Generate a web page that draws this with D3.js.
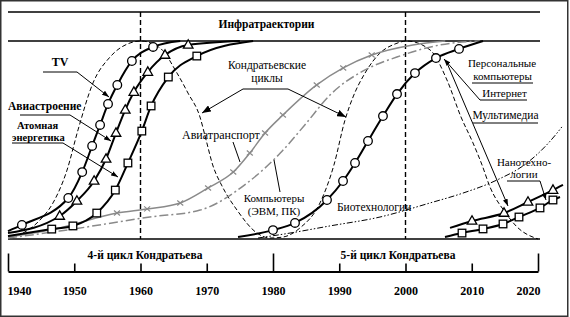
<!DOCTYPE html>
<html><head><meta charset="utf-8">
<script src="https://cdn.jsdelivr.net/npm/d3@7"></script>
<style>
body{margin:0;background:#fff}
svg{display:block}
text{font-family:"Liberation Serif","Times New Roman",serif;fill:#000}
</style>
</head><body>
<svg id="c" width="570" height="317"></svg>
<script>
// ---------- DATA ----------
const tickYears = [1940,1950,1960,1970,1980,1990,2000,2010,2020];
const majorYears = [1940,1980,2020];
const cycleLabels = ["4-й цикл Кондратьева","5-й цикл Кондратьева"];
const cycleYears = [1960,2000];           // dashed verticals (cycle peaks)
const bandTitle = "Инфратраектории";

// [year, share of saturation]
const tvLine = [[1940,0.04],[1942.1,0.071],[1949.1,0.207],[1951.2,0.338],[1952.7,0.470],[1953.9,0.576],[1955.1,0.682],[1956.5,0.778],[1958.7,0.899],[1961.9,0.970],[1966,1.0]];
const aviaBuildLine = [[1940,0.03],[1947.8,0.116],[1950.4,0.192],[1953.0,0.293],[1954.8,0.404],[1956.3,0.535],[1957.7,0.652],[1959.0,0.742],[1961.1,0.843],[1963.7,0.929],[1967.2,0.980],[1975,1.0]];
const atomLine = [[1940,0.015],[1946.6,0.05],[1949.8,0.066],[1953.4,0.131],[1956.2,0.247],[1958.1,0.384],[1960.2,0.545],[1961.6,0.672],[1964.2,0.818],[1968.5,0.924],[1977,1.0]];
const aviaTransLine = [[1940,0.01],[1947.8,0.056],[1956.45,0.131],[1961.0,0.152],[1966.0,0.182],[1970.2,0.258],[1974.0,0.338],[1976.5,0.434],[1978.8,0.535],[1981.5,0.626],[1986.6,0.778],[1990.6,0.864],[1994.9,0.929],[2001.1,0.98],[2006,1.0]];
const computersLine = [[1940,0.005],[1947.8,0.04],[1961.4,0.111],[1969.0,0.146],[1976.1,0.283],[1981.1,0.434],[1984.8,0.576],[1988.6,0.727],[1994.2,0.859],[1998.7,0.919],[2005.2,0.98],[2011.2,1.0]];
const kondratievLine = [[1940.3,0.005],[1942.26,0.030],[1944.83,0.096],[1946.79,0.182],[1948.91,0.348],[1950.57,0.551],[1952.83,0.788],[1955.40,0.919],[1958.42,0.990],[1960.08,1.0],[1962.94,0.965],[1965.51,0.838],[1967.17,0.737],[1968.98,0.616],[1969.9,0.5],[1970.9,0.374],[1972.3,0.268],[1974.57,0.146],[1977.58,0.030],[1979.55,0.005],[1981.51,0.010],[1984.08,0.056],[1987.09,0.182],[1989.2,0.374],[1990.87,0.601],[1992.08,0.717],[1993.89,0.838],[1996.15,0.939],[1998.42,0.985],[2000.23,1.0],[2003.70,0.955],[2006.26,0.803],[2008.38,0.616],[2010.19,0.485],[2011.55,0.374],[2012.75,0.263],[2015.02,0.136],[2016.83,0.061],[2020.0,0.0]];
const pcLine = [[1974.72,0.010],[1980.0,0.045],[1983.32,0.081],[1988.15,0.197],[1990.57,0.293],[1992.38,0.384],[1994.34,0.495],[1996.6,0.621],[1998.72,0.732],[2001.43,0.838],[2004.6,0.914],[2008.08,0.960],[2011.7,1.0]];
const biotechLine = [[1977.74,0.005],[1982.57,0.030],[1988.6,0.066],[1996.15,0.111],[2003.7,0.182],[2008.68,0.232],[2013.81,0.298],[2018.34,0.384],[2022.87,0.535],[2023.6,0.566]];
const nanoTriLine = [[2006.72,0.056],[2010.04,0.091],[2014.87,0.131],[2018.49,0.187],[2022.26,0.247],[2023.77,0.273]];
const nanoSqLine = [[2005.96,0.010],[2008.53,0.030],[2011.7,0.051],[2014.72,0.076],[2017.13,0.111],[2020.3,0.157],[2022.26,0.197],[2023.32,0.212]];

// marker points (subset of each line)
const tvMarks = tvLine.slice(1,-1);
const aviaBuildMarks = aviaBuildLine.slice(1,-1);
const atomMarks = atomLine.slice(1,-1);
const aviaTransMarks = aviaTransLine.slice(2,-2);
const pcMarks = pcLine.slice(1,-1);
const nanoTriMarks = nanoTriLine.slice(1,-1);
const nanoSqMarks = nanoSqLine.slice(1,-1);

// ---------- CHART ----------
const svg = d3.select('#c');
const x = d3.scaleLinear().domain([1940,2020]).range([8,538]);
const y = d3.scaleLinear().domain([0,1]).range([239,41]);
const line = d3.line().x(d=>x(d[0])).y(d=>y(d[1])).curve(d3.curveMonotoneX);

const defs = svg.append('defs');
function arrowDef(id, len, wid){
  defs.append('marker').attr('id',id).attr('markerUnits','userSpaceOnUse')
    .attr('viewBox',`0 ${-wid/2} ${len} ${wid}`).attr('refX',len).attr('refY',0)
    .attr('markerWidth',len).attr('markerHeight',wid).attr('orient','auto')
    .append('path').attr('d',`M0,${-wid/2}L${len},0L0,${wid/2}Z`).attr('fill','#000');
}
arrowDef('arB',9,7);
arrowDef('arS',7,5);

// frame
svg.append('rect').attr('x',0.75).attr('y',0.75).attr('width',567).attr('height',315.5)
  .attr('fill','none').attr('stroke','#333').attr('stroke-width',1.5);

// band lines
[12, y(1)].forEach(v=>svg.append('line').attr('x1',8).attr('x2',540).attr('y1',v).attr('y2',v)
  .attr('stroke','#000').attr('stroke-width',1.6));
svg.append('line').attr('x1',8).attr('x2',540).attr('y1',y(0)).attr('y2',y(0))
  .attr('stroke','#000').attr('stroke-width',1.6);
svg.append('text').attr('x',266.5).attr('y',27.5).attr('text-anchor','middle')
  .attr('font-size',11.5).attr('font-weight','bold').text(bandTitle);

// cycle verticals
cycleYears.forEach(v=>svg.append('line').attr('x1',x(v)).attr('x2',x(v)).attr('y1',12).attr('y2',y(0))
  .attr('stroke','#000').attr('stroke-width',1.4).attr('stroke-dasharray','5,3'));

// curves
function path(data, stroke, w, dash){
  const p = svg.append('path').attr('d',line(data)).attr('fill','none').attr('stroke',stroke).attr('stroke-width',w);
  if(dash) p.attr('stroke-dasharray',dash);
  return p;
}
path(kondratievLine,'#000',1,'4.5,2.5');
path(computersLine,'#8a8a8a',1.5,'9,3,2,3');
path(aviaTransLine,'#8a8a8a',1.5);
path(biotechLine,'#000',1,'6,2,1.5,2,1.5,2');
path(tvLine,'#000',2);
path(aviaBuildLine,'#000',2);
path(atomLine,'#000',2);
path(pcLine,'#000',2);
path(nanoTriLine,'#000',2);
path(nanoSqLine,'#000',2);

// markers
function circles(data){
  svg.append('g').selectAll('circle').data(data).join('circle')
    .attr('cx',d=>x(d[0])).attr('cy',d=>y(d[1])).attr('r',4.3)
    .attr('fill','#fff').attr('stroke','#000').attr('stroke-width',1.3);
}
function triangles(data){
  svg.append('g').selectAll('path').data(data).join('path')
    .attr('transform',d=>`translate(${x(d[0])},${y(d[1])})`)
    .attr('d','M0,-5.2L4.8,3.2L-4.8,3.2Z')
    .attr('fill','#fff').attr('stroke','#000').attr('stroke-width',1.3);
}
function squares(data){
  svg.append('g').selectAll('rect').data(data).join('rect')
    .attr('x',d=>x(d[0])-3.8).attr('y',d=>y(d[1])-3.8).attr('width',7.6).attr('height',7.6)
    .attr('fill','#fff').attr('stroke','#000').attr('stroke-width',1.3);
}
function crosses(data){
  svg.append('g').selectAll('path').data(data).join('path')
    .attr('transform',d=>`translate(${x(d[0])},${y(d[1])})`)
    .attr('d','M-3,-2.5L3,2.5M-3,2.5L3,-2.5')
    .attr('fill','none').attr('stroke','#8a8a8a').attr('stroke-width',1.2);
}
crosses(aviaTransMarks);
circles(tvMarks);
triangles(aviaBuildMarks);
squares(atomMarks);
circles(pcMarks);
triangles(nanoTriMarks);
squares(nanoSqMarks);

// annotations
function txt(s, px, py, opts={}){
  svg.append('text').attr('x',px).attr('y',py)
    .attr('text-anchor',opts.anchor||'start')
    .attr('font-size',opts.size||12)
    .attr('font-weight',opts.bold?'bold':'normal').text(s);
}
function lead(pts, arrow, w){
  const p = svg.append('path').attr('d',d3.line()(pts)).attr('fill','none')
    .attr('stroke','#000').attr('stroke-width',w||1);
  if(arrow) p.attr('marker-end',`url(#${arrow})`);
}
txt('TV',60,66,{anchor:'middle',bold:true,size:12});
lead([[43,72],[77,72],[109,97]],'arS');
txt('Авиастроение',8,110,{bold:true,size:11.5});
lead([[20,115],[70,115],[111,141]],'arS');
txt('Атомная',17,128.5,{bold:true,size:10.5});
txt('энергетика',12,140.5,{bold:true,size:10.5});
lead([[12,143],[63,143],[118,177]],'arS');
txt('Кондратьевские',267,69,{anchor:'middle',size:11.5});
txt('циклы',267,82,{anchor:'middle',size:11.5});
lead([[243,89],[288,89]]);
lead([[243,89],[202,113]],'arB');
lead([[288,89],[346,117]],'arB');
txt('Авиатранспорт',182,138.5,{size:12});
lead([[233,142],[240,162]]);
txt('Компьютеры',274,202,{anchor:'middle',size:11});
txt('(ЭВМ, ПК)',274,214.5,{anchor:'middle',size:11});
lead([[274,160],[280,192]]);
txt('Биотехнологии',337,211,{size:11.5});
txt('Персональные',502,67,{anchor:'middle',size:11});
txt('компьютеры',502.5,79.5,{anchor:'middle',size:11});
lead([[472,83],[533,83]]);
txt('Интернет',504.5,96.5,{anchor:'middle',size:11});
lead([[527,100],[480,100],[444,59]],'arS');
txt('Мультимедиа',505.5,119,{anchor:'middle',size:11.5});
lead([[538,123],[473,123]]);
lead([[447,63],[508,206]],'arS');
txt('Нанотехно-',524,165.5,{anchor:'middle',size:11});
txt('логии',524,178,{anchor:'middle',size:11});
lead([[507,181],[540,181],[546,200]],'arS');

// bottom time axis
const axisY = 271.5;
const ax = d3.axisBottom(x).tickValues(tickYears).tickSizeOuter(0).tickSizeInner(0).tickFormat(d3.format('d'));
const g = svg.append('g').attr('transform',`translate(0,${axisY})`).call(ax);
g.select('.domain').attr('stroke','#000').attr('stroke-width',2.2);
g.selectAll('.tick line').attr('y2',d=>majorYears.includes(d)?-18:-8).attr('stroke','#000').attr('stroke-width',1.6);
g.selectAll('.tick text').attr('y',23.5).attr('dy',null).attr('fill','#000')
  .attr('font-size',12).attr('font-weight','bold')
  .attr('font-family','"Liberation Serif","Times New Roman",serif')
  .attr('text-anchor',d=>d===1940?'start':(d===2020?'end':'middle'))
  .attr('dx',d=>d===1940?-1:(d===2020?2:0));
cycleLabels.forEach((s,i)=>txt(s,[145,398][i],258.5,{anchor:'middle',bold:true,size:11.5}));
</script>
</body></html>
